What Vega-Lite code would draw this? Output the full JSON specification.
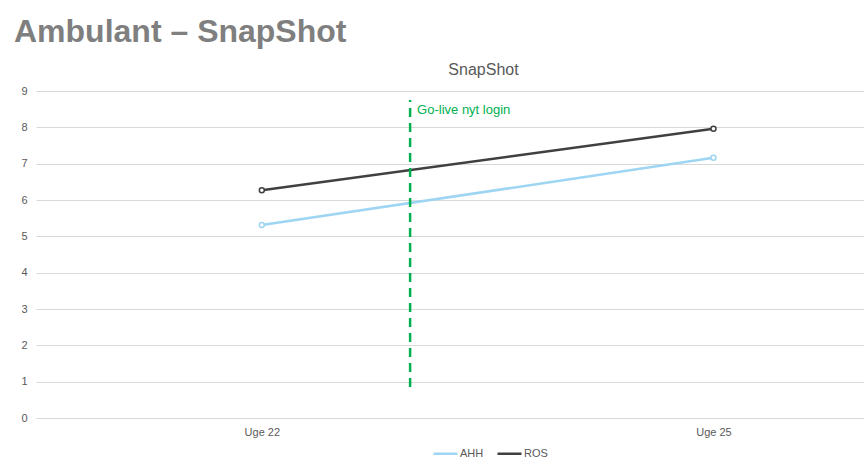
{
  "$schema": "https://vega.github.io/schema/vega-lite/v6.json",
  "width": 828,
  "height": 327,
  "autosize": {"type": "none"},
  "padding": {"left": 36, "top": 91, "right": 0, "bottom": 54},
  "background": "white",
  "config": {"view": {"stroke": null}, "font": "Liberation Sans"},
  "title": {
    "text": "Ambulant – SnapShot",
    "anchor": "start",
    "frame": "group",
    "dx": -22,
    "offset": 12,
    "fontSize": 32,
    "font": "Liberation Sans",
    "fontWeight": "bold",
    "color": "#7f7f7f"
  },
  "datasets": {
    "series": [
      {"series": "AHH", "week": 22, "value": 5.31},
      {"series": "AHH", "week": 25, "value": 7.16},
      {"series": "ROS", "week": 22, "value": 6.27},
      {"series": "ROS", "week": 25, "value": 7.96}
    ],
    "golive": [
      {"week": 22.985, "y": 0.85, "y2": 8.75, "label": "Go-live nyt login"}
    ]
  },
  "resolve": {"axis": {"x": "independent", "y": "independent"}},
  "layer": [
    {
      "data": {"name": "series"},
      "mark": {
        "type": "line",
        "strokeWidth": 2.5,
        "point": {"filled": false, "fill": "white", "size": 25, "strokeWidth": 1.5}
      },
      "encoding": {
        "x": {
          "field": "week",
          "type": "quantitative",
          "scale": {"domain": [20.5, 26], "nice": false, "zero": false},
          "axis": {
            "orient": "bottom",
            "values": [22, 25],
            "labelExpr": "'Uge ' + datum.value",
            "title": null,
            "grid": false,
            "ticks": false,
            "domain": false,
            "labelColor": "#595959",
            "labelFontSize": 11,
            "labelPadding": 8
          }
        },
        "y": {
          "field": "value",
          "type": "quantitative",
          "scale": {"domain": [0, 9], "nice": false},
          "axis": {
            "values": [0, 1, 2, 3, 4, 5, 6, 7, 8, 9],
            "title": null,
            "grid": true,
            "gridColor": "#d9d9d9",
            "ticks": false,
            "domain": false,
            "labelColor": "#595959",
            "labelFontSize": 11,
            "labelPadding": 9
          }
        },
        "color": {
          "field": "series",
          "type": "nominal",
          "scale": {"domain": ["AHH", "ROS"], "range": ["#9dd5f2", "#404040"]},
          "legend": {
            "title": null,
            "orient": "none",
            "direction": "horizontal",
            "legendX": 396,
            "legendY": 349,
            "symbolType": "stroke",
            "symbolSize": 576,
            "symbolStrokeWidth": 2.5,
            "labelColor": "#595959",
            "labelFontSize": 11,
            "labelOffset": 1,
            "columnPadding": 8
          }
        }
      }
    },
    {
      "data": {"name": "golive"},
      "mark": {"type": "rule", "color": "#00b050", "strokeWidth": 2.5, "strokeDash": [9, 6]},
      "encoding": {
        "x": {
          "field": "week",
          "type": "quantitative",
          "axis": {
            "orient": "top",
            "title": "SnapShot",
            "labels": false,
            "ticks": false,
            "domain": false,
            "grid": false,
            "titleFontSize": 16,
            "titleFontWeight": "normal",
            "titleColor": "#595959",
            "titlePadding": 14,
            "titleX": 447
          }
        },
        "y": {"field": "y", "type": "quantitative", "axis": null},
        "y2": {"field": "y2"}
      }
    },
    {
      "data": {"name": "golive"},
      "mark": {"type": "text", "color": "#00b050", "fontSize": 13, "align": "left", "baseline": "middle", "dx": 7, "dy": 10},
      "encoding": {
        "x": {"field": "week", "type": "quantitative", "axis": null},
        "y": {"field": "y2", "type": "quantitative", "axis": null},
        "text": {"field": "label"}
      }
    }
  ]
}
